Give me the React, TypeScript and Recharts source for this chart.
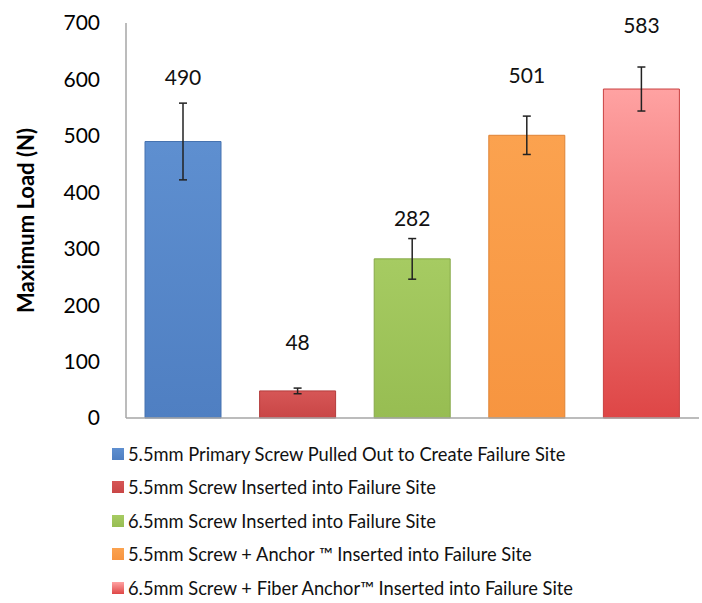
import React from 'react';
import { BarChart, Bar, Cell, XAxis, YAxis, ErrorBar, LabelList } from 'recharts';

// ** Data
const groups = [
  '5.5mm Primary Screw Pulled Out to Create Failure Site',
  '5.5mm Screw Inserted into Failure Site',
  '6.5mm Screw Inserted into Failure Site',
  '5.5mm Screw + Anchor \u2122 Inserted into Failure Site',
  '6.5mm Screw + Fiber Anchor\u2122 Inserted into Failure Site',
];
const maxLoad = [490, 48, 282, 501, 583];
const stdDev = [68, 5, 36, 34, 39];
// height (in N) where each value label sits in the original
const labelAt = [605, 135, 356, 608, 697];
const yTicks = [0, 100, 200, 300, 400, 500, 600, 700];

const gradients = [
  { id: 'g0', top: '#5e8fd0', bottom: '#4f7fc2', stroke: '#4673b0' },
  { id: 'g1', top: '#d65656', bottom: '#c94646', stroke: '#b33c3c' },
  { id: 'g2', top: '#a6cb62', bottom: '#97bd52', stroke: '#86a847' },
  { id: 'g3', top: '#fba24f', bottom: '#f79540', stroke: '#de8336' },
  { id: 'g4', top: '#ffa2a2', bottom: '#de4646', stroke: '#c94040' },
];

const data = groups.map((name, i) => ({
  name,
  value: maxLoad[i],
  err: stdDev[i],
  labelAt: labelAt[i],
}));

const FONT = 'Lato, "Open Sans", sans-serif';

const renderValueLabel = (props: any) => {
  const { x, y, width, height, value, index } = props;
  const base = y + height;
  const perUnit = height / value;
  const ly = base - labelAt[index] * perUnit;
  return (
    <text
      x={x + width / 2}
      y={ly}
      textAnchor="middle"
      dominantBaseline="central"
      fontSize={21}
      fontFamily={FONT}
      fill="#111"
    >
      {value}
    </text>
  );
};

const renderYLabel = (props: any) => {
  const { viewBox } = props;
  const cx = 25;
  const cy = viewBox.y + viewBox.height / 2;
  return (
    <text
      x={cx}
      y={cy}
      transform={`rotate(-90 ${cx} ${cy})`}
      textAnchor="middle"
      dominantBaseline="central"
      fontSize={22}
      fontWeight="bold"
      fontFamily={FONT}
      fill="#000"
    >
      Maximum Load (N)
    </text>
  );
};

const App: React.FC = () => {
  return (
    <div style={{ position: 'absolute', left: 0, top: 0, width: 702, height: 603, background: '#fff' }}>
      <BarChart
        width={702}
        height={430}
        data={data}
        margin={{ top: 23, right: 3, left: 0, bottom: 0 }}
        barCategoryGap="17%"
      >
        <defs>
          {gradients.map((g) => (
            <linearGradient key={g.id} id={g.id} x1="0" y1="0" x2="0" y2="1">
              <stop offset="0%" stopColor={g.top} />
              <stop offset="100%" stopColor={g.bottom} />
            </linearGradient>
          ))}
        </defs>
        <XAxis dataKey="name" tick={false} tickLine={false} height={12} axisLine={{ stroke: '#a6a6a6', strokeWidth: 1.5 }} />
        <YAxis
          domain={[0, 700]}
          ticks={yTicks}
          interval={0}
          width={126}
          tickLine={false}
          tickSize={6}
          tickMargin={20}
          axisLine={{ stroke: '#a6a6a6', strokeWidth: 1.5 }}
          tick={{ fill: '#000', fontSize: 21, fontFamily: FONT }}
          label={renderYLabel}
        />
        <Bar dataKey="value" barSize={76} isAnimationActive={false}>
          {data.map((d, i) => (
            <Cell key={d.name} fill={`url(#${gradients[i].id})`} stroke={gradients[i].stroke} strokeWidth={1} />
          ))}
          <ErrorBar dataKey="err" width={4} stroke="#222" strokeWidth={1.5} direction="y" />
          <LabelList dataKey="value" content={renderValueLabel} />
        </Bar>
      </BarChart>
      <div style={{ position: 'absolute', left: 112, top: 437, fontFamily: FONT, fontSize: 18.3, color: '#111' }}>
        {groups.map((name, i) => (
          <div key={name} style={{ display: 'flex', alignItems: 'center', height: 33.5, whiteSpace: 'pre' }}>
            <span
              style={{
                display: 'inline-block',
                width: 12,
                height: 12,
                marginRight: 4,
                background: `linear-gradient(${gradients[i].top}, ${gradients[i].bottom})`,
              }}
            />
            {name}
          </div>
        ))}
      </div>
    </div>
  );
};

export default App;
